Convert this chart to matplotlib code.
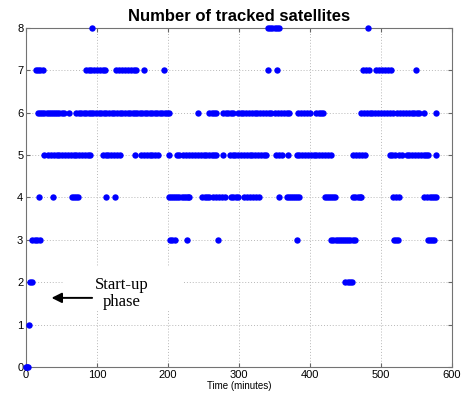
import matplotlib.pyplot as plt
from matplotlib.patches import Rectangle

# tiempos (minutos) en los que se siguen N satelites
t0 = [0, 1, 3]
t1 = [4]
t2 = [5, 8, 450, 453, 456, 459]
t3 = [9, 12, 15, 19, 203, 206, 210, 227, 271, 381,
      430, 433, 436, 439, 442, 445, 448, 451, 454, 457, 460, 464,
      518, 521, 524, 566, 569, 572, 575]
t4 = [18, 38, 65, 68, 71, 73, 113, 125,
      201, 204, 207, 210, 213, 216, 219, 222, 225, 228, 230,
      248, 252, 255, 258, 264, 268, 272, 276, 280, 289, 292, 296, 299,
      307, 311, 315, 320, 324, 328, 356, 367, 370, 373, 376, 379, 382, 385,
      421, 424, 427, 430, 433, 435, 461, 464, 467, 470, 472,
      517, 521, 526, 561, 565, 569, 572, 575, 578]
t5 = [26, 31, 35, 39, 43, 47, 51, 55, 59, 63, 67, 71, 75, 79, 83, 87, 90,
      108, 112, 116, 120, 124, 128, 132, 153, 162, 166, 170, 174, 178, 182, 186,
      201, 212, 216, 221, 226, 230, 234, 238, 242, 246, 250, 254, 258, 262, 265, 268,
      277, 287, 291, 295, 299, 303, 307, 311, 315, 319, 323, 327, 331, 335, 338,
      352, 356, 361, 369, 381, 385, 389, 393, 397, 401, 405, 409, 413, 417, 421, 425, 430,
      461, 465, 469, 473, 477, 512, 516, 520, 525, 529,
      536, 540, 544, 548, 552, 556, 560, 563, 566, 577]
t6 = [17, 20, 23, 26, 29, 32, 35, 38, 41, 44, 47, 50, 54, 60,
      71, 74, 78, 81, 85, 88, 92, 95, 99, 103, 106, 110, 113, 117, 121, 124, 128,
      132, 135, 139, 143, 146, 150, 153, 157, 160, 164, 168, 171, 174, 178, 182,
      185, 189, 192, 196, 199, 202,
      242, 258, 262, 265, 268, 277, 281, 285, 289, 292, 299, 303, 306, 310,
      314, 318, 322, 326, 330, 334, 338, 342, 345, 351, 355, 359, 363, 367, 370,
      383, 387, 391, 396, 400, 409, 413, 416, 419,
      472, 476, 480, 484, 488, 492, 496, 500, 504, 508, 512, 517,
      523, 527, 531, 535, 539, 543, 547, 551, 554, 561, 577]
t7 = [14, 17, 20, 24, 85, 88, 92, 96, 100, 104, 108, 111,
      127, 131, 135, 139, 144, 148, 152, 155, 166, 195, 341, 353,
      475, 479, 483, 493, 497, 501, 505, 510, 514, 550]
t8 = [93, 341, 344, 347, 350, 353, 356, 482]

niveles = [t0, t1, t2, t3, t4, t5, t6, t7, t8]

plt.rcParams['font.family'] = ['Liberation Sans', 'DejaVu Sans']
fig = plt.figure(figsize=(4.65, 4.01), dpi=100)
ax = fig.add_axes([0.056, 0.085, 0.916, 0.845])

for n, ts in enumerate(niveles):
    ax.plot(ts, [n] * len(ts), 'o', color='#0000ff', markersize=4.6,
            markeredgewidth=0, clip_on=False, zorder=3)

ax.set_xlim(0, 600)
ax.set_ylim(0, 8)
ax.set_xticks(range(0, 601, 100))
ax.set_yticks(range(0, 9))
ax.grid(True, linestyle=(0, (1, 2)), color='0.72', linewidth=0.7)
ax.tick_params(direction='in', length=3, labelsize=8, top=True, right=True,
               color='0.4', pad=2)
for s in ax.spines.values():
    s.set_color('0.45')

ax.set_title('Number of tracked satellites', fontsize=12, fontweight='bold', pad=5)
ax.set_xlabel('Time (minutes)', fontsize=7, labelpad=1)

# caja blanca de la anotacion (tapa la grilla)
ax.add_patch(Rectangle((52, 1.35), 170, 1.0, facecolor='white', edgecolor='none', zorder=2))
ax.annotate('', xy=(32, 1.63), xytext=(97, 1.63),
            arrowprops=dict(arrowstyle='-|>', color='k', lw=1.4, mutation_scale=15),
            zorder=4)
ax.text(135, 1.73, 'Start-up\nphase', ha='center', va='center', fontsize=12,
        family='Liberation Serif', linespacing=1.05, zorder=4)

fig.savefig('out.png', dpi=100)
